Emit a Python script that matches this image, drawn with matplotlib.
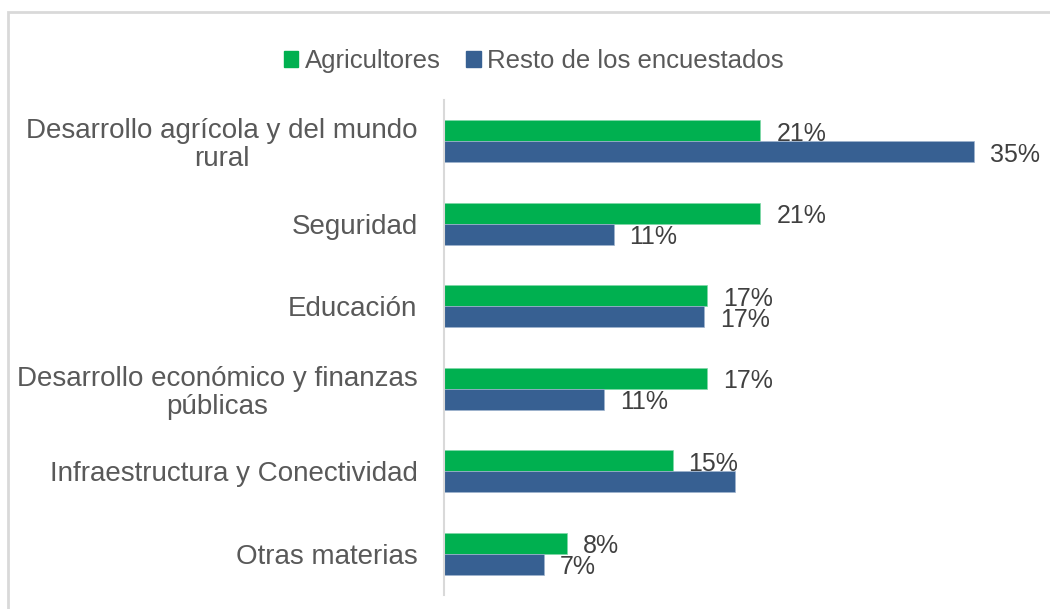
import matplotlib
matplotlib.use("Agg")
import matplotlib.pyplot as plt
import numpy as np
from matplotlib.patches import Patch, Rectangle

plt.rcParams["font.family"] = ["Liberation Sans", "DejaVu Sans"]

categories = [
    "Desarrollo agrícola y del mundo\nrural",
    "Seguridad",
    "Educación",
    "Desarrollo económico y finanzas\npúblicas",
    "Infraestructura y Conectividad",
    "Otras materias",
]
agricultores = [20.9, 20.9, 17.4, 17.4, 15.1, 8.1]
resto = [35.0, 11.2, 17.2, 10.6, 19.2, 6.6]
agricultores_labels = ["21%", "21%", "17%", "17%", "15%", "8%"]
resto_labels = ["35%", "11%", "17%", "11%", "", "7%"]

GREEN = "#00B050"
BLUE = "#376092"
GRID = "#D9D9D9"
TEXT = "#595959"
LABEL = "#404040"

W, H = 1050, 609
fig = plt.figure(figsize=(W / 100, H / 100), dpi=100)
# plot area in pixels: x 444..1040, y 100..595 (from top)
ax = fig.add_axes([444 / W, 14 / H, (1040 - 444) / W, 495 / H])

y = np.arange(len(categories))
h = 0.255
ax.barh(y - h / 2, agricultores, height=h, color=GREEN, edgecolor="#7fd7a7", linewidth=0.5)
ax.barh(y + h / 2, resto, height=h, color=BLUE, edgecolor="#9fb4cf", linewidth=0.5)

for yi, v, s in zip(y, agricultores, agricultores_labels):
    if s:
        ax.annotate(s, (v, yi - h / 2), xytext=(11.5, -2), textcoords="offset points",
                    ha="left", va="center", fontsize=18, color=LABEL)
for yi, v, s in zip(y, resto, resto_labels):
    if s:
        ax.annotate(s, (v, yi + h / 2), xytext=(11.5, -2), textcoords="offset points",
                    ha="left", va="center", fontsize=18, color=LABEL)

ax.set_xlim(0, (1040 - 444) / 15.14)
ax.set_ylim(len(categories) - 0.5, -0.5)
ax.set_yticks(y)
ax.set_yticklabels(categories, fontsize=20, color=TEXT, linespacing=1.1)
for lbl in ax.get_yticklabels():
    lbl.set_multialignment("center")
ax.tick_params(axis="y", length=0, pad=19)
ax.set_xticks([])
for side in ["top", "right", "bottom"]:
    ax.spines[side].set_visible(False)
ax.spines["left"].set_color(GRID)
ax.spines["left"].set_linewidth(1.5)

handles = [Patch(color=GREEN, label="Agricultores"),
           Patch(color=BLUE, label="Resto de los encuestados")]
fig.legend(handles=handles, loc="center", bbox_to_anchor=(534 / W, 1 - 61 / H),
           ncol=2, frameon=False, fontsize=18.5, labelcolor=TEXT,
           handlelength=0.55, handleheight=0.55, handletextpad=0.25, columnspacing=1.0)

# chart border: only the top and left edges fall inside the image
fig.patches.append(Rectangle((7.5 / W, -0.2), 1.2, 1.2 - 11.5 / H,
                             transform=fig.transFigure, fill=False,
                             edgecolor=GRID, linewidth=2))

fig.savefig("out.png", dpi=100)
